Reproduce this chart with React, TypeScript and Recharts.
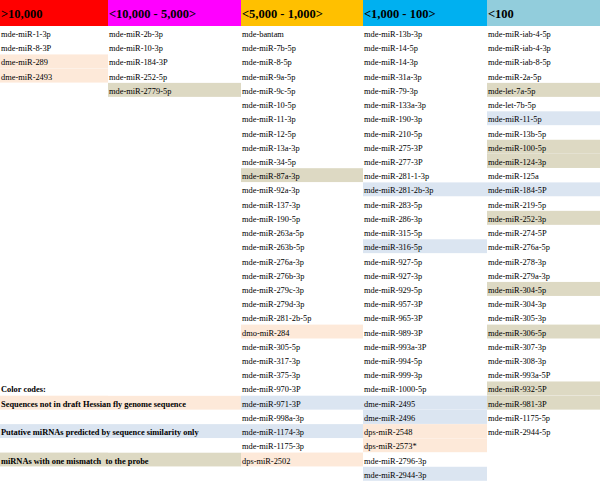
import { BarChart, Bar, XAxis, YAxis } from 'recharts'

// expression classes (column headers)
const headerLabels = ['>10,000', '<10,000 - 5,000>', '<5,000 - 1,000>', '<1,000 - 100>', '<100']

// miRNAs per class, top to bottom
const over10k = ['mde-miR-1-3p', 'mde-miR-8-3P', 'dme-miR-289', 'dme-miR-2493']
const from10kTo5k = ['mde-miR-2b-3p', 'mde-miR-10-3p', 'mde-miR-184-3P', 'mde-miR-252-5p', 'mde-miR-2779-5p']
const from5kTo1k = [
  'mde-bantam', 'mde-miR-7b-5p', 'mde-miR-8-5p', 'mde-miR-9a-5p', 'mde-miR-9c-5p', 'mde-miR-10-5p',
  'mde-miR-11-3p', 'mde-miR-12-5p', 'mde-miR-13a-3p', 'mde-miR-34-5p', 'mde-miR-87a-3p', 'mde-miR-92a-3p',
  'mde-miR-137-3p', 'mde-miR-190-5p', 'mde-miR-263a-5p', 'mde-miR-263b-5p', 'mde-miR-276a-3p',
  'mde-miR-276b-3p', 'mde-miR-279c-3p', 'mde-miR-279d-3p', 'mde-miR-281-2b-5p', 'dmo-miR-284',
  'mde-miR-305-5p', 'mde-miR-317-3p', 'mde-miR-375-3p', 'mde-miR-970-3P', 'mde-miR-971-3P',
  'mde-miR-998a-3p', 'mde-miR-1174-3p', 'mde-miR-1175-3p', 'dps-miR-2502',
]
const from1kTo100 = [
  'mde-miR-13b-3p', 'mde-miR-14-5p', 'mde-miR-14-3p', 'mde-miR-31a-3p', 'mde-miR-79-3p', 'mde-miR-133a-3p',
  'mde-miR-190-3p', 'mde-miR-210-5p', 'mde-miR-275-3P', 'mde-miR-277-3P', 'mde-miR-281-1-3p',
  'mde-miR-281-2b-3p', 'mde-miR-283-5p', 'mde-miR-286-3p', 'mde-miR-315-5p', 'mde-miR-316-5p',
  'mde-miR-927-5p', 'mde-miR-927-3p', 'mde-miR-929-5p', 'mde-miR-957-3P', 'mde-miR-965-3P',
  'mde-miR-989-3P', 'mde-miR-993a-3P', 'mde-miR-994-5p', 'mde-miR-999-3p', 'mde-miR-1000-5p',
  'dme-miR-2495', 'dme-miR-2496', 'dps-miR-2548', 'dps-miR-2573*', 'mde-miR-2796-3p', 'mde-miR-2944-3p',
]
const under100 = [
  'mde-miR-iab-4-5p', 'mde-miR-iab-4-3p', 'mde-miR-iab-8-5p', 'mde-miR-2a-5p', 'mde-let-7a-5p',
  'mde-let-7b-5p', 'mde-miR-11-5p', 'mde-miR-13b-5p', 'mde-miR-100-5p', 'mde-miR-124-3p', 'mde-miR-125a',
  'mde-miR-184-5P', 'mde-miR-219-5p', 'mde-miR-252-3p', 'mde-miR-274-5P', 'mde-miR-276a-5p',
  'mde-miR-278-3p', 'mde-miR-279a-3p', 'mde-miR-304-5p', 'mde-miR-304-3p', 'mde-miR-305-3p',
  'mde-miR-306-5p', 'mde-miR-307-3p', 'mde-miR-308-3p', 'mde-miR-993a-5P', 'mde-miR-932-5P',
  'mde-miR-981-3P', 'mde-miR-1175-5p', 'mde-miR-2944-5p',
]

// colour-coded groups
const notInGenome = ['dme-miR-289', 'dme-miR-2493', 'dmo-miR-284', 'dps-miR-2502', 'dps-miR-2548', 'dps-miR-2573*']
const putative = [
  'mde-miR-971-3P', 'mde-miR-1174-3p', 'mde-miR-281-2b-3p', 'mde-miR-316-5p', 'dme-miR-2495',
  'dme-miR-2496', 'mde-miR-2944-3p', 'mde-miR-11-5p', 'mde-miR-184-5P',
]
const oneMismatch = [
  'mde-miR-2779-5p', 'mde-miR-87a-3p', 'mde-let-7a-5p', 'mde-miR-100-5p', 'mde-miR-124-3p',
  'mde-miR-252-3p', 'mde-miR-304-5p', 'mde-miR-306-5p', 'mde-miR-932-5P', 'mde-miR-981-3P',
]

const legendTitle = 'Color codes:'
const legendLabels = [
  'Sequences not in draft Hessian fly genome sequence',
  'Putative miRNAs predicted by sequence similarity only',
  'miRNAs with one mismatch  to the probe',
]

const HEADER_COLORS = ['#ff0000', '#ff00ff', '#ffc000', '#00b0f0', '#92cddc']
const PEACH = '#fde9d9'
const BLUE = '#dbe5f1'
const TAN = '#ddd9c3'
const LEGEND_COLORS = [PEACH, BLUE, TAN]
const COL_W = [108, 133, 122, 124, 113]
const ROWS = 32
const LEGEND_ROW = 25
const FONT = '"Liberation Serif", "Times New Roman", serif'

const columns = [over10k, from10kTo5k, from5kTo1k, from1kTo100, under100]

const colorOf = (name: string) => {
  if (notInGenome.includes(name)) return PEACH
  if (putative.includes(name)) return BLUE
  if (oneMismatch.includes(name)) return TAN
  return '#ffffff'
}

const headerData = [
  headerLabels.reduce((acc: any, lbl, j) => {
    acc[`w${j}`] = COL_W[j]
    acc[`n${j}`] = lbl
    acc[`f${j}`] = HEADER_COLORS[j]
    acc[`b${j}`] = true
    return acc
  }, { row: 'h' }),
]

const bodyData = Array.from({ length: ROWS }, (_, r) => {
  const d: any = { row: r }
  columns.forEach((col, j) => {
    const name = col[r] ?? ''
    d[`w${j}`] = COL_W[j]
    d[`n${j}`] = name
    d[`f${j}`] = name ? colorOf(name) : '#ffffff'
    d[`b${j}`] = false
  })
  if (r === LEGEND_ROW) {
    d.n0 = legendTitle
    d.b0 = true
  }
  const k = r - LEGEND_ROW - 1
  if (k >= 0 && k % 2 === 0 && k / 2 < legendLabels.length) {
    // legend cell spans the first two columns
    d.w0 = COL_W[0] + COL_W[1]
    d.w1 = 0
    d.n0 = legendLabels[k / 2]
    d.f0 = LEGEND_COLORS[k / 2]
    d.b0 = true
  }
  return d
})

const cellShape = (j: number, fontSize: number, baseline: number) => (p: any) => {
  const { x, y, width, height, payload } = p
  if (!width) return <g />
  const label = payload[`n${j}`]
  return (
    <g>
      <rect x={x} y={y} width={width} height={height} fill={payload[`f${j}`]} />
      {label ? (
        <text
          x={x + 1}
          y={y + height - baseline}
          fontSize={fontSize}
          fontFamily={FONT}
          fontWeight={payload[`b${j}`] ? 'bold' : 'normal'}
          fill="#000"
          style={{ whiteSpace: 'pre' }}
        >
          {label}
        </text>
      ) : null}
    </g>
  )
}

function Table({ data, height, fontSize, baseline }: { data: any[]; height: number; fontSize: number; baseline: number }) {
  return (
    <BarChart
      width={600}
      height={height}
      data={data}
      layout="vertical"
      barCategoryGap={0}
      barGap={0}
      margin={{ top: 0, right: 0, bottom: 0, left: 0 }}
    >
      <XAxis type="number" domain={[0, 600]} hide />
      <YAxis type="category" dataKey="row" hide />
      {COL_W.map((_, j) => (
        <Bar
          key={j}
          dataKey={`w${j}`}
          stackId="t"
          isAnimationActive={false}
          shape={cellShape(j, fontSize, baseline)}
        />
      ))}
    </BarChart>
  )
}

export default function App() {
  return (
    <div style={{ position: 'absolute', top: 0, left: 0, width: 600, height: 481, background: '#fff' }}>
      <Table data={headerData} height={26} fontSize={12.5} baseline={8} />
      <Table data={bodyData} height={455} fontSize={8.4} baseline={3} />
    </div>
  )
}
